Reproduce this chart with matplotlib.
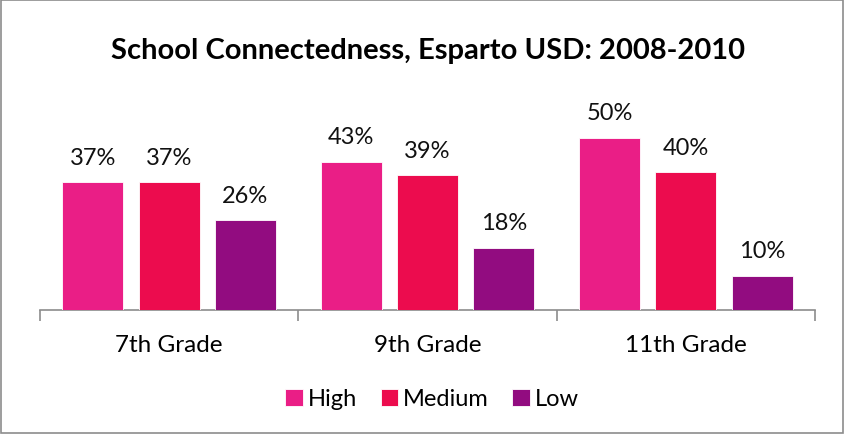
import numpy as np
import matplotlib.pyplot as plt
from matplotlib.patches import Rectangle

# Datos
grados = ['7th Grade', '9th Grade', '11th Grade']
series = ['High', 'Medium', 'Low']
high = [37, 43, 50]
medium = [37, 39, 40]
low = [26, 18, 10]
colores = ['#EA1E86', '#EC0C4E', '#920C80']

plt.rcParams['font.family'] = ['Lato', 'DejaVu Sans']

fig = plt.figure(figsize=(8.52, 4.35), dpi=100)
ax = fig.add_axes([40 / 852, 1 - 311 / 435, 775 / 852, 207 / 435])

x = np.arange(len(grados))
ancho = 0.236
desp = [-0.295, 0.0, 0.295]
for valores, d, c, nombre in zip([high, medium, low], desp, colores, series):
    barras = ax.bar(x + d, valores, ancho, color=c, edgecolor='#ffffff', linewidth=0.6,
                    label=nombre, zorder=3)
    for b, v in zip(barras, valores):
        ax.text(b.get_x() + b.get_width() / 2, v + 4.2, f'{v}%', ha='center', va='bottom',
                fontsize=17, color='#111111')

ax.set_xlim(-0.5, 2.5)
ax.set_ylim(0, 60)
ax.set_yticks([])
for s in ['top', 'right', 'left']:
    ax.spines[s].set_visible(False)
ax.spines['bottom'].set_color('#8c8c8c')
ax.spines['bottom'].set_linewidth(1.2)
ax.set_xticks([-0.5, 0.5, 1.5, 2.5])
ax.set_xticklabels([])
ax.set_xticks(x, minor=True)
ax.set_xticklabels(grados, minor=True, fontsize=17.5)
ax.tick_params(axis='x', which='major', length=8, color='#8c8c8c', width=1.2)
ax.tick_params(axis='x', which='minor', length=0, pad=17)
ax.patch.set_alpha(0)

fig.text(428 / 852, 1 - 51 / 435, 'School Connectedness, Esparto USD: 2008-2010',
         ha='center', va='center', fontsize=21, fontweight='bold')

fig.legend(loc='center', bbox_to_anchor=(432 / 852, 1 - 400 / 435), ncol=3, frameon=False,
           fontsize=17, handlelength=0.75, handleheight=0.75, handletextpad=0.2,
           columnspacing=1.0)

# Borde del gráfico
fig.patches.append(Rectangle((1 / 852, 1 / 435), 842 / 852, 433 / 435, transform=fig.transFigure,
                             fill=False, edgecolor='#8c8c8c', linewidth=1.2))

fig.savefig('out.png', dpi=100)
